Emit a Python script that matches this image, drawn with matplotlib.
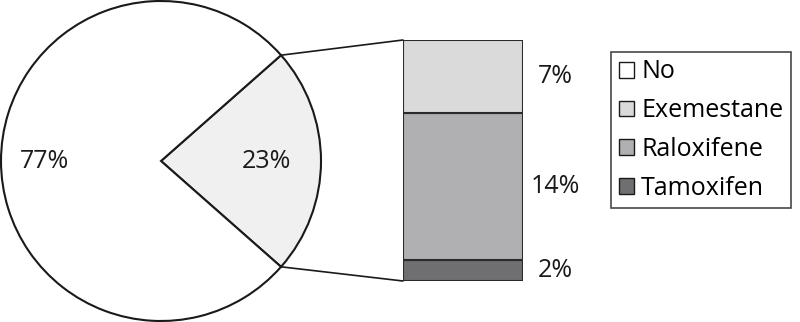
import matplotlib
matplotlib.use("Agg")
import numpy as np
import matplotlib.pyplot as plt
from matplotlib.patches import Patch, ConnectionPatch

plt.rcParams['font.family'] = ['Open Sans', 'DejaVu Sans']

# pie data
pie_labels = ["Yes", "No"]
pie_values = [23, 77]
pie_colors = ["#f0f0f0", "#ffffff"]

# breakdown of the 23%
drugs = ["Tamoxifen", "Raloxifene", "Exemestane"]
drug_values = [2, 14, 7]
drug_colors = ["#6f6f71", "#b0b0b2", "#dadadb"]

legend_names = ["No", "Exemestane", "Raloxifene", "Tamoxifen"]
legend_colors = ["#ffffff", "#dadadb", "#b0b0b2", "#6f6f71"]

FS = 18
W, H = 800, 322
fig = plt.figure(figsize=(W / 100, H / 100), dpi=100)

# pie
ax1 = fig.add_axes([1 / W, 1 / H, 320 / W, 320 / H])
half = 360 * pie_values[0] / sum(pie_values) / 2
wedges, _ = ax1.pie(pie_values, colors=pie_colors, startangle=-half,
                    wedgeprops=dict(edgecolor="#1a1a1a", linewidth=1.5))
for w, v, d in zip(wedges, pie_values, [0.66, 0.73]):
    ang = np.radians((w.theta1 + w.theta2) / 2)
    ax1.text(d * np.cos(ang), d * np.sin(ang), "%d%%" % v, ha="center", va="center",
             fontsize=FS, color="#1a1a1a")
ax1.set_xlim(-1, 1)
ax1.set_ylim(-1, 1)
ax1.set_aspect("equal")
ax1.axis("off")

# stacked bar
ax2 = fig.add_axes([403 / W, (H - 281) / H, 120 / W, 241 / H])
bottom = 0
for name, v, c in zip(drugs, drug_values, drug_colors):
    ax2.bar(0, v, width=1, bottom=bottom, color=c, edgecolor="#2a2a2a", linewidth=1.5)
    ax2.text(0.77, bottom + v / 2, "%d%%" % v, ha="center", va="center",
             fontsize=FS, color="#1a1a1a")
    bottom += v
ax2.set_xlim(-0.5, 0.5)
ax2.set_ylim(0, sum(drug_values))
ax2.axis("off")

# connecting lines
th = np.radians(half)
for sign, ytop in [(1, sum(drug_values)), (-1, 0)]:
    con = ConnectionPatch(xyA=(np.cos(th), sign * np.sin(th)), coordsA=ax1.transData,
                          xyB=(-0.5, ytop), coordsB=ax2.transData,
                          color="#1a1a1a", linewidth=1.2)
    fig.add_artist(con)

# legend
handles = [Patch(facecolor=c, edgecolor="#1a1a1a", linewidth=1) for c in legend_colors]
leg = fig.legend(handles, legend_names, loc="upper left",
                 bbox_to_anchor=(611 / W, 1 - 52 / H), borderaxespad=0,
                 fontsize=FS, fancybox=False, edgecolor="#1a1a1a",
                 handlelength=0.6, handleheight=0.6, handletextpad=0.3,
                 labelspacing=0.55, borderpad=0.3)
leg.get_frame().set_linewidth(1.2)

fig.savefig("out.png", dpi=100)
